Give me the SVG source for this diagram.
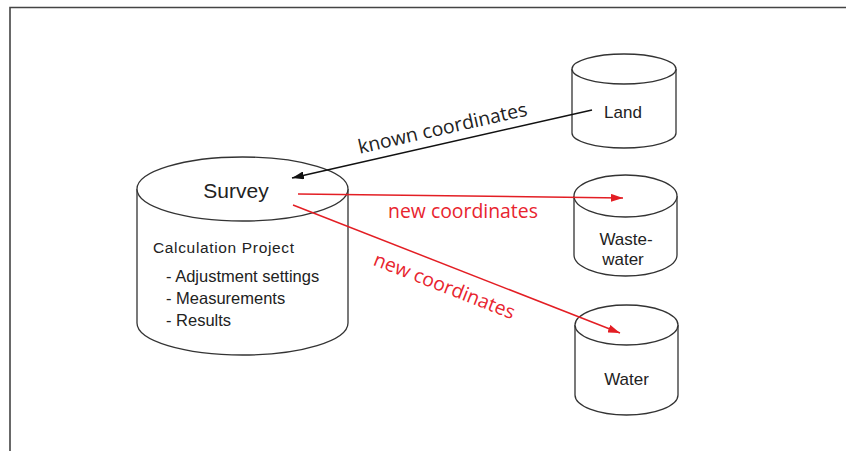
<svg xmlns="http://www.w3.org/2000/svg" width="846" height="451" viewBox="0 0 846 451">
<style>
.cyl{fill:#fff;stroke:#333;stroke-width:1.3}
.lbl{font-family:"Liberation Sans",Arial,sans-serif;fill:#222}
.edge{font-family:"Open Sans","Noto Sans",sans-serif;font-size:19.4px}
.red{fill:#e8242e}
.blk{fill:#222}
</style>
<defs>
<marker id="ahB" viewBox="0 0 12 8" refX="12" refY="4" markerWidth="12" markerHeight="8" markerUnits="userSpaceOnUse" orient="auto"><path d="M0,0 L12,4 L0,8 z" fill="#111"/></marker>
<marker id="ahR" viewBox="0 0 12 8" refX="12" refY="4" markerWidth="12" markerHeight="8" markerUnits="userSpaceOnUse" orient="auto"><path d="M0,0 L12,4 L0,8 z" fill="#e31e24"/></marker>
</defs>
<rect width="846" height="451" fill="#fff"/>
<path d="M10,451 V7.5 H846" fill="none" stroke="#444" stroke-width="1.6"/>

<g id="survey">
<path class="cyl" d="M137,189 V323 A105.5,32 0 0 0 348,323 V189"/>
<ellipse class="cyl" cx="242.5" cy="189" rx="105.5" ry="32"/>
<text class="lbl" x="236" y="198" font-size="21" text-anchor="middle">Survey</text>
<text class="lbl" x="153" y="253" font-size="15.5" fill="#333" textLength="141" lengthAdjust="spacing">Calculation  Project</text>
<text class="lbl" x="166" y="282" font-size="16.5">- Adjustment settings</text>
<text class="lbl" x="166" y="304" font-size="16.5">- Measurements</text>
<text class="lbl" x="166" y="326" font-size="16.5">- Results</text>
</g>

<g id="land">
<path class="cyl" d="M572,69 V133 A52,15 0 0 0 676,133 V69"/>
<ellipse class="cyl" cx="624" cy="69" rx="52" ry="15"/>
<text class="lbl" x="623" y="118" font-size="17" text-anchor="middle">Land</text>
</g>

<g id="wastewater">
<path class="cyl" d="M574,196 V255 A51.5,21 0 0 0 677,255 V196"/>
<ellipse class="cyl" cx="625.5" cy="196" rx="51.5" ry="21"/>
<text class="lbl" x="626" y="245" font-size="17" text-anchor="middle">Waste-</text>
<text class="lbl" x="623" y="265" font-size="17" text-anchor="middle">water</text>
</g>

<g id="water">
<path class="cyl" d="M575,325 V395 A51.5,20 0 0 0 678,395 V325"/>
<ellipse class="cyl" cx="626.5" cy="325" rx="51.5" ry="20"/>
<text class="lbl" x="626.5" y="385" font-size="17" text-anchor="middle">Water</text>
</g>

<g id="connectors">
<line x1="592" y1="110" x2="292" y2="178" stroke="#111" stroke-width="1.5" marker-end="url(#ahB)"/>
<line x1="298" y1="194" x2="623" y2="198" stroke="#e31e24" stroke-width="1.5" marker-end="url(#ahR)"/>
<line x1="293" y1="205" x2="620" y2="333" stroke="#e31e24" stroke-width="1.5" marker-end="url(#ahR)"/>
<text class="edge blk" transform="translate(444,134.5) rotate(-12.8)" text-anchor="middle">known coordinates</text>
<text class="edge red" x="463" y="218" text-anchor="middle">new coordinates</text>
<text class="edge red" transform="translate(442,292) rotate(21.4)" text-anchor="middle">new coordinates</text>
</g>
</svg>
